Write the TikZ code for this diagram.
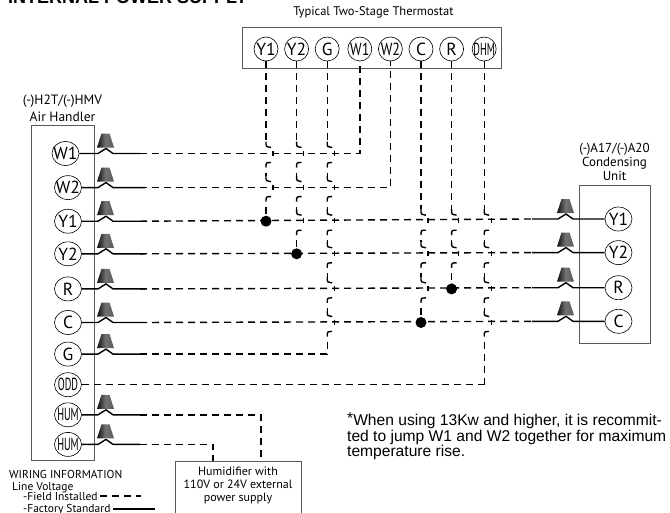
\documentclass[tikz,border=0pt]{standalone}
\usepackage{fontspec}
\setmainfont{PT Sans}
\newfontfamily\notefont{Liberation Sans}
\usepackage{tikz}
\usetikzlibrary{shapes, calc, positioning}
\tikzstyle{terminal} = [ellipse, draw=black, semithick, minimum width=27pt, minimum height=24pt, inner xsep=-9pt, inner ysep=0pt, font=\fontsize{17.5}{17.5}\selectfont]
\tikzstyle{smallterminal} = [terminal, minimum width=24pt]
\tikzstyle{panel} = [rectangle, draw=black!65, line width=0.9pt]
\tikzstyle{heading} = [align=center, font=\fontsize{12.5}{14}\selectfont]
\tikzstyle{legendtext} = [anchor=base west, inner sep=0pt, font=\fontsize{11.5}{11.5}\selectfont]
\tikzstyle{factory} = [line width=1.4pt]
\tikzstyle{field} = [line width=1.4pt, dash pattern=on 7pt off 5pt]
\tikzstyle{nut} = [left color=black!95, right color=black!65, middle color=black!55]
\tikzstyle{splice} = [circle, fill=black, minimum size=11pt, inner sep=0pt]
\newcommand{\thin}[2][0.58]{\scalebox{#1}[1]{#2}}
\begin{document}
\begin{tikzpicture}[x=1pt, y=-1pt, auto]
    \useasboundingbox (0,0) rectangle (670,512);
    \clip (0,0) rectangle (670,512);
    % thermostat
    \node (Thermostat) [panel, minimum width=259pt, minimum height=41pt] at (371.5,47.5) {};
    \node (ThermostatTitle) [heading] at (373.5,12) {Typical Two-Stage Thermostat};
    \node (TstatY1) [smallterminal] at (266,49) {Y1};
    \node (TstatY2) [smallterminal, right = 6pt of TstatY1] {Y2};
    \node (TstatG) [smallterminal, right = 6pt of TstatY2] {G};
    \node (TstatW1) [smallterminal, right = 8pt of TstatG] {\thin[0.8]{W1}};
    \node (TstatW2) [smallterminal, right = 6pt of TstatW1] {\thin[0.8]{W2}};
    \node (TstatC) [smallterminal, right = 6pt of TstatW2] {C};
    \node (TstatR) [smallterminal, right = 6pt of TstatC] {R};
    \node (TstatDHM) [smallterminal, right = 8pt of TstatR] {\thin{DHM}};
    % air handler
    \node (AirHandler) [panel, minimum width=63pt, minimum height=335pt] at (62.5,292.5) {};
    \node (AirTitle) [heading, above = 0pt of AirHandler, yshift=-1pt, font=\fontsize{13.5}{17.5}\selectfont] {(-)H2T/(-)HMV\\Air Handler};
    \node (AirW1) [terminal] at (65.5,153.5) {W1};
    \node (AirW2) [terminal, below = 9.5pt of AirW1, xshift=2.5pt] {W2};
    \node (AirY1) [terminal, below = 9pt of AirW2] {Y1};
    \node (AirY2) [terminal, below = 8pt of AirY1] {Y2};
    \node (AirR) [terminal, below = 10.5pt of AirY2] {R};
    \node (AirC) [terminal, below = 9pt of AirR] {C};
    \node (AirG) [terminal, below = 7pt of AirC] {G};
    \node (AirODD) [terminal, below = 6pt of AirG] {\thin{ODD}};
    \node (AirHUM) [terminal, below = 5.5pt of AirODD] {\thin{HUM}};
    \node (AirHUMB) [terminal, below = 5pt of AirHUM] {\thin{HUM}};
    % condensing unit
    \node (Condenser) [panel, minimum width=71pt, minimum height=158pt] at (614.5,264) {};
    \node (CondTitle) [heading, above = 0pt of Condenser, font=\fontsize{13}{14}\selectfont] {(-)A17/(-)A20\\Condensing\\Unit};
    \node (CondY1) [terminal] at (618.5,219) {Y1};
    \node (CondY2) [terminal, below = 9pt of CondY1] {Y2};
    \node (CondR) [terminal, below = 10.5pt of CondY2] {R};
    \node (CondC) [terminal, below = 9pt of CondR] {C};
    % humidifier
    \node (Humidifier) [panel, fill=white, minimum width=126pt, minimum height=60pt, anchor=north] at (238,461) {};
    \node (HumidifierText) [heading, below = 5.5pt of Humidifier.north, font=\fontsize{12}{13.2}\selectfont, inner sep=0pt] {Humidifier with\\110V or 24V external\\power supply};
    % wire nuts and factory leads, left side
    \foreach \term/\edge in {AirW1/140, AirW2/145, AirY1/140, AirY2/145, AirR/145, AirC/140, AirG/140, AirHUM/140, AirHUMB/140}{
        \coordinate (Lead) at (\edge,0);
        \coordinate (Kink) at (98,0);
        \draw [factory] (\term.east) -- (\term -| Kink) -- ++(8,-5) -- ++(7,5) -- (\term -| Lead);
        \shade [nut] (\term -| Kink) ++(-1,-6) -- ++(17,0) -- ++(-4.5,-14) -- ++(-8,0) -- cycle;
    }
    % wire nuts and factory leads, right side
    \foreach \term in {CondY1, CondY2, CondR, CondC}{
        \coordinate (Lead) at (532,0);
        \coordinate (Kink) at (573,0);
        \draw [factory] (\term.west) -- (\term -| Kink) -- ++(-7,-5) -- ++(-8,5) -- (\term -| Lead);
        \shade [nut] (\term -| Kink) ++(1,-6) -- ++(-17,0) -- ++(4.5,-14) -- ++(8,0) -- cycle;
    }
    % field wires, horizontal
    \coordinate (LeftEnd) at (140,0);
    \coordinate (RightEnd) at (532,0);
    \draw [field] (AirW1 -| LeftEnd) -| (TstatW1.south);
    \draw [field] (AirW2 -| LeftEnd) -| (TstatW2.south);
    \draw [field] (AirY1 -| LeftEnd) -- (CondY1 -| RightEnd);
    \draw [field] (AirY2 -| LeftEnd) -- (CondY2 -| RightEnd);
    \draw [field] (AirR -| LeftEnd) -- (CondR -| RightEnd);
    \draw [field] (AirC -| LeftEnd) -- (CondC -| RightEnd);
    \draw [field] (AirG -| LeftEnd) -- (AirG -| TstatG);
    \draw [field] (AirODD.east) -- (AirODD -| TstatDHM);
    \draw [field] (AirHUM -| LeftEnd) -| (Humidifier.north -| 261,0);
    \draw [field] (AirHUMB -| LeftEnd) -| (Humidifier.north -| 213,0);
    % splices
    \node (SpliceY1) [splice] at (AirY1 -| TstatY1) {};
    \node (SpliceY2) [splice] at (AirY2 -| TstatY2) {};
    \node (SpliceR) [splice] at (AirR -| TstatR) {};
    \node (SpliceC) [splice] at (AirC -| TstatC) {};
    % field wires, vertical, hopping over the horizontal ones
    \foreach \term/\stop/\hops in {TstatY1/SpliceY1/{AirW1,AirW2}, TstatY2/SpliceY2/{AirW1,AirW2,AirY1}, TstatC/SpliceC/{AirY1,AirY2,AirR}, TstatR/SpliceR/{AirY1,AirY2}, TstatG/AirG/{AirW1,AirW2,AirY1,AirY2,AirR,AirC}, TstatDHM/AirODD/{AirY1,AirY2,AirR,AirC}}{
        \coordinate (Tail) at (\term.south);
        \foreach \cross in \hops {
            \coordinate (Hop) at (\term |- \cross);
            \draw [field] (Tail) -- ($(Hop)+(0,-12)$);
            \draw [factory] ($(Hop)+(0,-12)$) -- ($(Hop)+(0,-9)$) .. controls ($(Hop)+(0,-7)$) .. ($(Hop)+(5,-6)$);
            \draw [factory] ($(Hop)+(7,-3)$) -- ($(Hop)+(7,2)$);
            \draw [factory] ($(Hop)+(5,9)$) .. controls ($(Hop)+(0,9)$) .. ($(Hop)+(0,14)$);
            \coordinate (Tail) at ($(Hop)+(0,19)$);
        }
        \draw [field] (Tail) -- (\term |- \stop);
    }
    % note
    \node (Note) [anchor=north west, inner sep=0pt, align=left, font=\notefont\fontsize{15.6}{15.5}\selectfont] at (347,413) {\raisebox{2pt}{*}When using 13Kw and higher, it is recommit-\\ted to jump W1 and W2 together for maximum\\temperature rise.};
    % title
    \node (Title) [anchor=base west, inner sep=0pt, font=\notefont\bfseries\fontsize{18}{18}\selectfont] at (8,3) {INTERNAL POWER SUPPLY};
    % legend
    \node (Legend) [legendtext] at (9,478.5) {WIRING INFORMATION};
    \node (LineVoltage) [legendtext] at (12,490) {Line Voltage};
    \node (FieldInstalled) [legendtext] at (23,500) {-Field Installed};
    \node (FactoryStandard) [legendtext] at (23,512) {-Factory Standard};
    \coordinate (FieldEnd) at (141,0);
    \coordinate (FactoryEnd) at (155,0);
    \draw [field] (FieldInstalled.east) ++(2,0) -- (FieldInstalled -| FieldEnd);
    \draw [factory] (FactoryStandard.east) ++(2,0) -- (FactoryStandard -| FactoryEnd);
\end{tikzpicture}
\end{document}
